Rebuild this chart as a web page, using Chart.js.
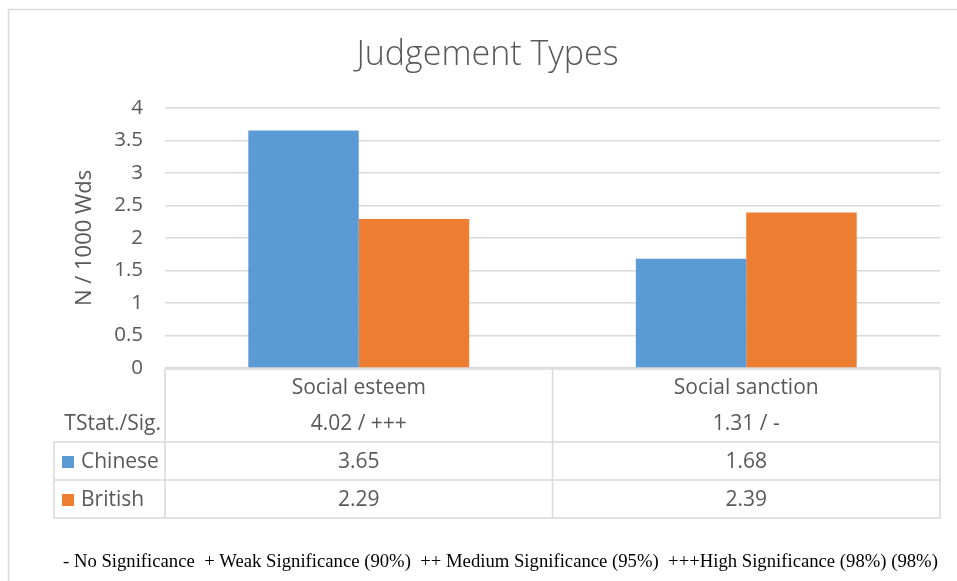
<!DOCTYPE html>
<html>
<head>
<meta charset="utf-8">
<script src="https://cdn.jsdelivr.net/npm/chart.js@4.4.1/dist/chart.umd.min.js"></script>
<style>
  body { margin: 0; background: #fff; }
  #wrap { width: 957px; height: 581px; }
</style>
</head>
<body>
<div id="wrap"><canvas id="grafico" width="957" height="581"></canvas></div>
<script>
// dados
const categorias = ["Social esteem", "Social sanction"];
const chinese = [3.65, 1.68];
const british = [2.29, 2.39];
const tstat = ["4.02 / +++", "1.31 / -"];
const yTicks = [0, 0.5, 1, 1.5, 2, 2.5, 3, 3.5, 4];
const nota = "- No Significance  + Weak Significance (90%)  ++ Medium Significance (95%)  +++High Significance (98%) (98%)";

const azul = "#5B9BD5";
const laranja = "#ED7D31";
const cinza = "#595959";
const linha = "#D9D9D9";
const fonte = "'Open Sans', sans-serif";

// moldura + tabela de dados abaixo do gráfico
const tabelaPlugin = {
  id: 'tabela',
  beforeDraw(chart) {
    const ctx = chart.ctx;
    ctx.save();
    ctx.fillStyle = '#fff';
    ctx.fillRect(0, 0, chart.width, chart.height);
    ctx.strokeStyle = linha;
    ctx.lineWidth = 1.5;
    ctx.strokeRect(8.5, 9.5, chart.width + 20, chart.height + 20);
    ctx.restore();
  },
  afterDraw(chart) {
    const ctx = chart.ctx;
    const x = chart.scales.x;
    const area = chart.chartArea;
    const top = area.bottom + 1;
    const r1 = 442, r2 = 480, r3 = 518;
    const left = 54;
    const mid = (x.getPixelForValue(0) + x.getPixelForValue(1)) / 2;
    ctx.save();
    ctx.strokeStyle = linha;
    ctx.lineWidth = 1.5;
    ctx.beginPath();
    // verticais
    [area.left, mid, area.right].forEach(px => {
      ctx.moveTo(px, top);
      ctx.lineTo(px, r3);
    });
    ctx.moveTo(left, r1);
    ctx.lineTo(left, r3);
    // horizontais
    ctx.moveTo(area.left, top);
    ctx.lineTo(area.right, top);
    [r1, r2, r3].forEach(py => {
      ctx.moveTo(left, py);
      ctx.lineTo(area.right, py);
    });
    ctx.stroke();

    ctx.fillStyle = cinza;
    ctx.font = "21px " + fonte;
    ctx.textBaseline = 'middle';
    ctx.textAlign = 'right';
    ctx.fillText("TStat./Sig.", 161, 424);
    ctx.textAlign = 'center';
    categorias.forEach((c, i) => {
      const px = x.getPixelForValue(i);
      ctx.fillText(tstat[i], px, 424);
      ctx.fillText(String(chinese[i]), px, 462);
      ctx.fillText(String(british[i]), px, 500);
    });
    // legenda
    const series = [["Chinese", azul, 462], ["British", laranja, 500]];
    series.forEach(s => {
      ctx.fillStyle = s[1];
      ctx.fillRect(62, s[2] - 6, 12, 12);
      ctx.fillStyle = cinza;
      ctx.textAlign = 'left';
      ctx.fillText(s[0], 81, s[2]);
    });

    // nota de rodapé
    ctx.fillStyle = '#000';
    ctx.font = "18.7px 'Liberation Serif', serif";
    ctx.textAlign = 'left';
    ctx.fillText(nota, 63, 562);
    ctx.restore();
  }
};

new Chart(document.getElementById("grafico"), {
  type: 'bar',
  data: {
    labels: categorias,
    datasets: [{
      label: "Chinese",
      backgroundColor: azul,
      data: chinese
    }, {
      label: "British",
      backgroundColor: laranja,
      data: british
    }]
  },
  options: {
    responsive: false,
    animation: false,
    devicePixelRatio: 1,
    layout: {
      padding: { left: 35, top: 10, right: 17, bottom: 0 }
    },
    datasets: {
      bar: { categoryPercentage: 0.57, barPercentage: 1.0 }
    },
    plugins: {
      legend: { display: false },
      tooltip: { enabled: false },
      title: {
        display: true,
        text: "Judgement Types",
        color: cinza,
        font: { family: fonte, size: 34, weight: 300, lineHeight: 1.2 },
        padding: { top: 25, bottom: 32 }
      }
    },
    scales: {
      x: {
        grid: { display: false, drawTicks: false },
        border: { display: false },
        ticks: {
          color: cinza,
          padding: 7,
          font: { family: fonte, size: 21 }
        },
        afterFit(scale) { scale.height = 581 - 368; }
      },
      y: {
        min: 0,
        max: 4,
        afterBuildTicks(scale) {
          scale.ticks = yTicks.map(v => ({ value: v }));
        },
        grid: { color: linha, lineWidth: 1.5, drawTicks: false },
        border: { display: false },
        ticks: {
          color: cinza,
          padding: 22,
          font: { family: fonte, size: 20.5 },
          callback: (v) => String(v)
        },
        title: {
          display: true,
          text: "N / 1000 Wds",
          color: cinza,
          font: { family: fonte, size: 22 },
          padding: { top: 37, bottom: 0 }
        },
        afterFit(scale) { scale.width = 130; }
      }
    }
  },
  plugins: [tabelaPlugin]
});
</script>
</body>
</html>
